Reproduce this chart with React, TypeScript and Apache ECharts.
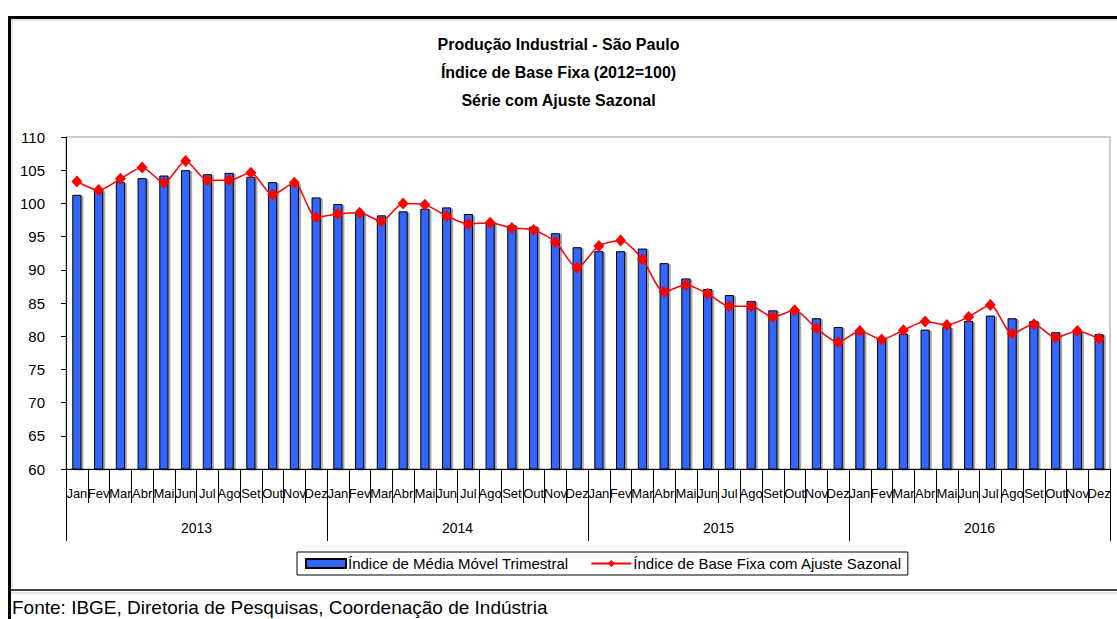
import React, { useEffect, useRef } from "react";
import * as echarts from "echarts";

const months = ["Jan", "Fev", "Mar", "Abr", "Mai", "Jun", "Jul", "Ago", "Set", "Out", "Nov", "Dez"];
const years = ["2013", "2014", "2015", "2016"];
const categories = years.flatMap(() => months);

const mediaMovel = [
  101.3, 102.0, 103.2, 103.8, 104.2, 105.0, 104.4, 104.6, 104.0, 103.2, 103.1, 100.9,
  99.9, 98.7, 98.2, 98.8, 99.2, 99.4, 98.4, 97.3, 96.7, 96.5, 95.5, 93.4,
  92.8, 92.8, 93.2, 91.0, 88.7, 87.1, 86.2, 85.3, 83.9, 83.7, 82.7, 81.4,
  80.7, 79.7, 80.4, 81.0, 81.4, 82.3, 83.1, 82.7, 82.3, 80.6, 80.7, 80.3,
];

const baseFixa = [
  103.3, 102.0, 103.7, 105.4, 103.1, 106.4, 103.5, 103.5, 104.6, 101.3, 103.1, 97.9,
  98.4, 98.6, 97.3, 100.0, 99.8, 98.1, 96.9, 97.1, 96.3, 96.0, 94.2, 90.3,
  93.6, 94.4, 91.6, 86.7, 87.7, 86.4, 84.5, 84.5, 82.9, 83.9, 81.2, 79.1,
  80.8, 79.5, 80.9, 82.2, 81.7, 82.9, 84.7, 80.4, 81.8, 79.8, 80.8, 79.6,
];

const titleLines = ["Produção Industrial - São Paulo", "Índice de Base Fixa (2012=100)", "Série com Ajuste Sazonal"];
const seriesNames = ["Índice de Média Móvel Trimestral", "Índice de Base Fixa com Ajuste Sazonal"];
const sourceText = "Fonte: IBGE, Diretoria de Pesquisas, Coordenação de Indústria";

const FONT = "'Liberation Sans', Arial, sans-serif";

export default function App() {
  const ref = useRef<HTMLDivElement>(null);

  useEffect(() => {
    if (!ref.current) return;
    const chart = echarts.init(ref.current, null, { renderer: "svg" });
    chart.setOption({
      animation: false,
      backgroundColor: "#fff",
      textStyle: { fontFamily: FONT, color: "#000" },
      title: {
        text: titleLines.join("\n"),
        left: "center",
        top: 30,
        padding: [0, 0, 0, 13],
        textStyle: { fontFamily: FONT, fontSize: 16, fontWeight: "bold", color: "#000", lineHeight: 28 },
      },
      legend: {
        left: 297,
        top: 552,
        padding: [4, 6, 4, 8],
        borderColor: "#000",
        borderWidth: 1,
        itemWidth: 40,
        itemHeight: 9,
        itemGap: 22,
        textStyle: { fontFamily: FONT, fontSize: 15, color: "#000", padding: [0, 0, 0, -3] },
        data: [
          { name: seriesNames[0], icon: "rect" },
          { name: seriesNames[1] },
        ],
      },
      grid: {
        left: 66,
        right: 7,
        top: 137,
        bottom: 150,
        show: true,
        borderColor: "#999",
        borderWidth: 1,
        backgroundColor: "#fff",
      },
      xAxis: [
        {
          type: "category",
          data: categories,
          position: "bottom",
          axisLine: { show: true, lineStyle: { color: "#000", width: 1 } },
          axisTick: { show: true, length: 34, lineStyle: { color: "#000" }, alignWithLabel: false },
          axisLabel: {
            interval: 0,
            margin: 18,
            fontFamily: FONT,
            fontSize: 13,
            color: "#000",
            width: 25,
            overflow: "truncate",
            ellipsis: "",
          },
        },
        {
          type: "category",
          data: years,
          position: "bottom",
          axisLine: { show: false },
          axisTick: { show: true, length: 72, lineStyle: { color: "#000" } },
          axisLabel: { margin: 52, fontFamily: FONT, fontSize: 14, color: "#000" },
        },
      ],
      yAxis: {
        type: "value",
        min: 60,
        max: 110,
        interval: 5,
        axisLine: { show: true, lineStyle: { color: "#000" } },
        axisTick: { show: true, length: 5, lineStyle: { color: "#000" } },
        splitLine: { show: false },
        axisLabel: { margin: 21, fontFamily: FONT, fontSize: 15, color: "#000" },
      },
      series: [
        {
          name: seriesNames[0],
          type: "bar",
          data: mediaMovel,
          barWidth: "42%",
          itemStyle: {
            color: "#3366FF",
            borderColor: "#000",
            borderWidth: 1,
            shadowColor: "rgba(0,0,0,0.35)",
            shadowOffsetX: 2,
            shadowOffsetY: 1,
            shadowBlur: 0,
          },
        },
        {
          name: seriesNames[1],
          type: "line",
          data: baseFixa,
          smooth: 0.25,
          symbol: "diamond",
          symbolSize: [11, 12],
          lineStyle: { color: "#FF0000", width: 1.5 },
          itemStyle: { color: "#FF0000" },
        },
      ],
      graphic: [
        { type: "line", shape: { x1: 8, y1: 17.5, x2: 1117, y2: 17.5 }, style: { stroke: "#000", lineWidth: 3 } },
        { type: "line", shape: { x1: 9.5, y1: 16, x2: 9.5, y2: 619 }, style: { stroke: "#000", lineWidth: 3 } },
        { type: "line", shape: { x1: 11, y1: 20, x2: 1117, y2: 20 }, style: { stroke: "#ccc", lineWidth: 1 } },
        { type: "line", shape: { x1: 12, y1: 20, x2: 12, y2: 589 }, style: { stroke: "#ccc", lineWidth: 1 } },
        { type: "line", shape: { x1: 11, y1: 590, x2: 1117, y2: 590 }, style: { stroke: "#444", lineWidth: 2 } },
        { type: "line", shape: { x1: 11, y1: 593, x2: 1117, y2: 593 }, style: { stroke: "#ccc", lineWidth: 1 } },
        {
          type: "text",
          x: 12,
          y: 607,
          style: { text: sourceText, fontFamily: FONT, fontSize: 19, fill: "#000", textVerticalAlign: "middle", textAlign: "left" },
        },
      ],
    });
    return () => chart.dispose();
  }, []);

  return <div ref={ref} style={{ position: "absolute", left: 0, top: 0, width: 1117, height: 619 }} />;
}
